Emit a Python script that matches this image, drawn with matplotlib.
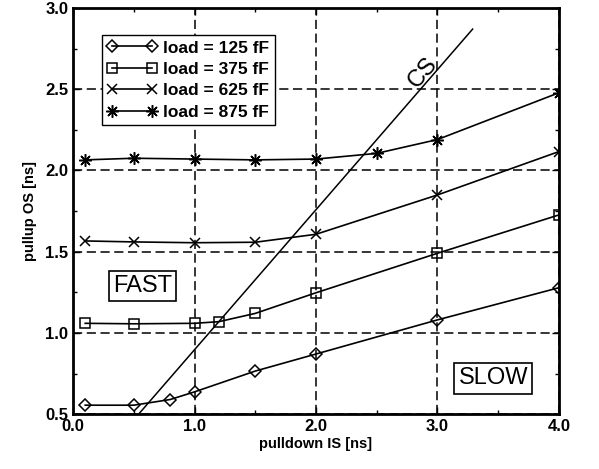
import matplotlib.pyplot as plt
from matplotlib.ticker import MultipleLocator, FormatStrFormatter

plt.rcParams['font.family'] = ['Liberation Sans', 'DejaVu Sans']
plt.rcParams['font.weight'] = 'bold'
plt.rcParams['axes.labelweight'] = 'bold'

# pulldown IS [ns] / pullup OS [ns] for each load
x_125 = [0.1, 0.5, 0.8, 1.0, 1.5, 2.0, 3.0, 4.0]
y_125 = [0.555, 0.555, 0.59, 0.637, 0.765, 0.87, 1.08, 1.278]

x_375 = [0.1, 0.5, 1.0, 1.2, 1.5, 2.0, 3.0, 4.0]
y_375 = [1.059, 1.056, 1.059, 1.069, 1.12, 1.247, 1.49, 1.726]

x_625 = [0.1, 0.5, 1.0, 1.5, 2.0, 3.0, 4.0]
y_625 = [1.566, 1.56, 1.555, 1.558, 1.607, 1.849, 2.116]

x_875 = [0.1, 0.5, 1.0, 1.5, 2.0, 2.5, 3.0, 4.0]
y_875 = [2.065, 2.075, 2.07, 2.065, 2.07, 2.105, 2.19, 2.478]

# CS boundary line
cs_x = [0.54, 3.29]
cs_y = [0.5, 2.87]

fig = plt.figure(figsize=(5.99, 4.69), dpi=100)
ax = fig.add_axes([0.122, 0.117, 0.811, 0.866])

kw = dict(color='black', linewidth=1.2, markerfacecolor='none',
          markeredgecolor='black', markeredgewidth=1.1)
ax.plot(x_125, y_125, marker='D', markersize=6, label='load = 125 fF', **kw)
ax.plot(x_375, y_375, marker='s', markersize=6.5, label='load = 375 fF', **kw)
ax.plot(x_625, y_625, marker='x', markersize=6.5, label='load = 625 fF', **kw)
ax.plot(x_875, y_875, marker=(8, 2, 0), markersize=9, label='load = 875 fF', **kw)

ax.plot(cs_x, cs_y, color='black', linewidth=1.1)
ax.text(2.88, 2.6, 'CS', rotation=49, fontsize=17, fontweight='normal',
        ha='center', va='center')

box = dict(boxstyle='square,pad=0.18', facecolor='white', edgecolor='black', linewidth=1.2)
ax.text(0.57, 1.29, 'FAST', fontsize=17, fontweight='normal',
        ha='center', va='center', bbox=box)
ax.text(3.46, 0.72, 'SLOW', fontsize=17, fontweight='normal',
        ha='center', va='center', bbox=box)

ax.set_xlim(0, 4.0)
ax.set_ylim(0.5, 3.0)
ax.xaxis.set_major_locator(MultipleLocator(1.0))
ax.xaxis.set_minor_locator(MultipleLocator(0.5))
ax.yaxis.set_major_locator(MultipleLocator(0.5))
ax.yaxis.set_minor_locator(MultipleLocator(0.25))
ax.xaxis.set_major_formatter(FormatStrFormatter('%.1f'))
ax.yaxis.set_major_formatter(FormatStrFormatter('%.1f'))
ax.tick_params(which='both', direction='in', top=True, right=True, labelsize=12)
ax.tick_params(which='major', length=5, width=1.0)
ax.tick_params(which='minor', length=3, width=1.0)
ax.grid(True, which='major', color='black', linestyle=(0, (6, 3)), linewidth=1.1)
for s in ax.spines.values():
    s.set_linewidth(2.0)

ax.set_xlabel('pulldown IS [ns]', fontsize=10.5, labelpad=2)
ax.set_ylabel('pullup OS [ns]', fontsize=10.5, labelpad=6)

leg = ax.legend(loc='upper left', bbox_to_anchor=(0.059, 0.933), numpoints=2,
                handlelength=2.9, fontsize=12.5, frameon=True, fancybox=False,
                borderpad=0.3, labelspacing=0.36, handletextpad=0.35,
                borderaxespad=0)
leg.get_frame().set_edgecolor('black')
leg.get_frame().set_linewidth(1.0)
leg.get_frame().set_alpha(1)

fig.savefig('out.png', dpi=100)
